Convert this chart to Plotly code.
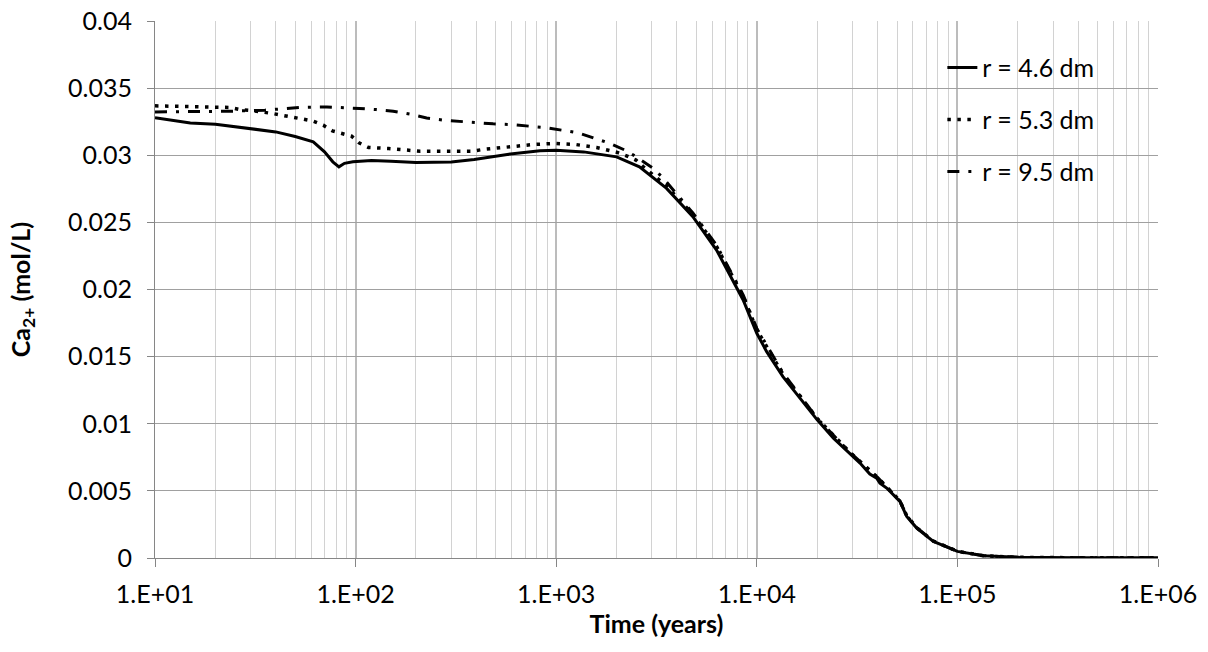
import plotly.graph_objects as go

# r = 4.6 dm
t_46 = [10, 15, 20, 30, 40, 50, 61.5, 70, 77, 82.6, 88, 97, 120, 150, 200, 300,
        390, 570, 830, 1000, 1370, 2000, 2600, 3550, 4800, 6300, 8550, 10000,
        11200, 13500, 16400, 20000, 24100, 29000, 32700, 36600, 39600, 41100,
        44400, 49800, 51700, 55900, 62700, 75900, 100000, 135000, 200000,
        400000, 1000000]
ca_46 = [0.0328, 0.03241, 0.03231, 0.0320, 0.03174, 0.0314, 0.0310, 0.03025,
         0.02951, 0.02914, 0.0294, 0.02951, 0.0296, 0.02955, 0.02946, 0.0295,
         0.02969, 0.03006, 0.03033, 0.03038, 0.03025, 0.02988, 0.02914,
         0.02753, 0.02542, 0.02294, 0.01922, 0.01674, 0.01537, 0.01351,
         0.0119, 0.01029, 0.00893, 0.00781, 0.00707, 0.00625, 0.00595,
         0.00558, 0.00521, 0.00446, 0.00421, 0.0031, 0.00223, 0.00124,
         0.00049, 0.00017, 0.00005, 0.00002, 0.00001]

# r = 5.3 dm
t_53 = [10, 13, 16.8, 23.7, 26.6, 30.3, 38.5, 43.7, 49, 54.8, 61.5, 69, 76.6,
        86, 95.5, 104, 116, 146, 185, 210, 263, 380, 430, 540, 685, 770, 990,
        1250, 1590, 1790, 2020, 2240, 2500, 2720, 3550, 4800, 6300, 8550,
        10000, 13500, 20000, 29000, 40000, 49800, 51700, 55900, 62700, 75900,
        100000, 135000, 200000, 400000, 1000000]
ca_53 = [0.03368, 0.03363, 0.0336, 0.03356, 0.0334, 0.03333, 0.03311, 0.03298,
         0.03286, 0.03269, 0.03254, 0.03224, 0.03182, 0.03162, 0.03142,
         0.03092, 0.03058, 0.0305, 0.03038, 0.0303, 0.0303, 0.0303, 0.03043,
         0.03058, 0.03075, 0.0308, 0.03088, 0.0308, 0.03058, 0.03038, 0.03021,
         0.02996, 0.02964, 0.02914, 0.0277, 0.0256, 0.0232, 0.0195, 0.0170,
         0.0137, 0.0104, 0.0079, 0.0060, 0.00452, 0.00425, 0.00315, 0.00226,
         0.00126, 0.0005, 0.00017, 0.00005, 0.00002, 0.00001]

# r = 9.5 dm
t_95 = [10, 16.8, 23.7, 35.3, 43.5, 52.8, 72, 86.5, 104.7, 127, 154, 187, 226,
        274, 331, 401, 485, 589, 726, 869, 1064, 1288, 1531, 1854, 2203, 2427,
        3055, 3428, 4800, 6300, 8550, 10000, 13500, 20000, 29000, 40000, 49800,
        51700, 55900, 62700, 75900, 100000, 135000, 200000, 400000, 1000000]
ca_95 = [0.03323, 0.03323, 0.03328, 0.03336, 0.03348, 0.03356, 0.0336, 0.03356,
         0.03348, 0.0334, 0.03328, 0.03306, 0.03278, 0.03261, 0.03251, 0.03241,
         0.03234, 0.03229, 0.03219, 0.03207, 0.03187, 0.03167, 0.0313, 0.03088,
         0.03038, 0.03001, 0.02902, 0.02827, 0.0257, 0.0233, 0.0196, 0.0171,
         0.0138, 0.0104, 0.0079, 0.0060, 0.00452, 0.00425, 0.00315, 0.00226,
         0.00126, 0.0005, 0.00017, 0.00005, 0.00002, 0.00001]

x_tickvals = [10, 100, 1000, 10000, 100000, 1000000]
x_ticktext = ["1.E+01", "1.E+02", "1.E+03", "1.E+04", "1.E+05", "1.E+06"]

FONT = "Lato"
FS = 25
series = [
    ("r = 4.6 dm", t_46, ca_46, 3, "solid"),
    ("r = 5.3 dm", t_53, ca_53, 3.5, "3.5px,6.5px"),
    ("r = 9.5 dm", t_95, ca_95, 3, "12px,9px,3px,9px"),
]

fig = go.Figure()
for name, t, ca, w, dash in series:
    fig.add_trace(go.Scatter(
        x=t, y=ca, mode="lines", name=name, legendgroup=name,
        line=dict(color="black", width=w, dash=dash),
    ))

# white panel behind the legend, covering the gridlines
fig.add_shape(type="rect", xref="paper", yref="paper",
              x0=0.7358, x1=0.9811, y0=0.6628, y1=0.9585,
              fillcolor="white", line=dict(width=0), layer="between")

fig.update_layout(
    width=1208, height=652,
    margin=dict(l=155, r=50, t=21, b=94),
    paper_bgcolor="white", plot_bgcolor="white",
    font=dict(family=FONT, size=FS, color="black"),
    showlegend=True,
    legend=dict(x=0.785, y=0.956, xanchor="left", yanchor="top",
                bgcolor="rgba(0,0,0,0)", traceorder="grouped",
                tracegroupgap=16.5, font=dict(size=FS)),
)

fig.update_xaxes(
    type="log", range=[1, 6],
    tickvals=x_tickvals, ticktext=x_ticktext,
    showgrid=True, gridcolor="#bcbcbc", gridwidth=1.5,
    minor=dict(showgrid=True, gridcolor="#d2d2d2", gridwidth=1,
               dtick="D1", ticks=""),
    showline=True, linecolor="#868686", linewidth=1,
    ticks="outside", ticklen=8, tickcolor="#868686",
    zeroline=False, automargin=False, ticklabelstandoff=6,
    title=dict(text="<b>Time (years)</b>", standoff=0,
               font=dict(size=FS)),
)

fig.update_yaxes(
    range=[0, 0.04], dtick=0.005, tick0=0,
    showgrid=True, gridcolor="#a0a0a0", gridwidth=1,
    showline=True, linecolor="#868686", linewidth=1,
    ticks="outside", ticklen=7, tickcolor="#868686",
    zeroline=False, automargin=False, ticklabelstandoff=10,
    title=dict(text="<b>Ca<sub>2+</sub> (mol/L)</b>", standoff=30,
               font=dict(size=FS)),
)

fig.write_html("out.html")
